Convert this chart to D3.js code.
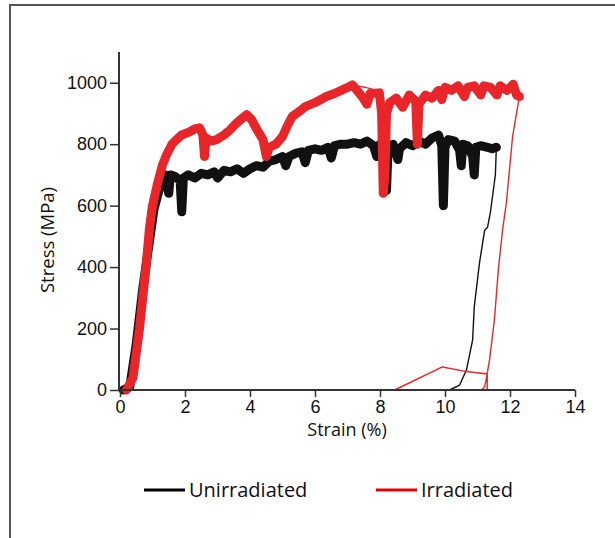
<!DOCTYPE html>
<html>
<head>
<meta charset="utf-8">
<script src="https://cdn.jsdelivr.net/npm/d3@7"></script>
<style>
  html, body { margin: 0; padding: 0; background: #fff; }
  svg { display: block; font-family: "Open Sans", "Noto Sans", sans-serif; }
</style>
</head>
<body>
<svg id="chart" width="615" height="538"></svg>
<script>
// Tensile curves: strain (%) vs stress (MPa)
const seriesNames = ["Unirradiated", "Irradiated"];
const seriesColors = ["#111111", "#e8262a"];
const legendColors = ["#000000", "#e00000"];

// Recorded (noisy) part of each test
const unirradiatedTest = [
  [0.1,0],[0.3,10],[0.5,150],[0.7,330],[0.9,480],[1.05,590],[1.2,650],[1.3,690],[1.4,700],[1.5,640],
  [1.55,700],[1.7,695],[1.85,680],[1.9,580],[1.95,690],[2.1,700],[2.3,690],[2.5,705],[2.7,700],[2.9,710],
  [3.0,690],[3.2,715],[3.4,710],[3.6,720],[3.8,705],[4.0,720],[4.2,730],[4.4,725],[4.6,745],[4.8,750],
  [5.0,760],[5.1,730],[5.2,760],[5.4,770],[5.6,775],[5.7,740],[5.8,780],[6.0,785],[6.2,780],[6.4,790],
  [6.5,755],[6.6,795],[6.8,800],[7.0,800],[7.2,805],[7.4,800],[7.6,810],[7.8,795],[7.9,760],[8.0,800],
  [8.15,780],[8.2,650],[8.25,790],[8.4,800],[8.55,750],[8.6,785],[8.8,805],[9.0,795],[9.2,810],[9.4,800],
  [9.6,820],[9.8,830],[9.9,795],[9.95,600],[10.0,790],[10.1,815],[10.3,810],[10.45,780],[10.5,730],[10.55,800],
  [10.7,795],[10.85,760],[10.9,700],[10.95,790],[11.1,795],[11.3,790],[11.45,785],[11.58,790]
];
const irradiatedTest = [
  [0.2,0],[0.4,40],[0.6,200],[0.8,400],[0.91,530],[1.0,600],[1.15,670],[1.3,730],[1.43,765],[1.6,800],
  [1.74,815],[1.9,830],[2.14,840],[2.3,850],[2.45,853],[2.55,830],[2.6,760],[2.65,820],[2.8,810],[2.97,815],
  [3.2,830],[3.37,845],[3.6,870],[3.77,885],[3.9,896],[4.05,880],[4.2,850],[4.4,815],[4.5,760],[4.6,790],
  [4.8,800],[5.0,825],[5.15,860],[5.3,890],[5.5,905],[5.7,922],[6.0,935],[6.35,955],[6.6,965],[6.97,983],
  [7.15,993],[7.28,977],[7.45,955],[7.6,930],[7.7,965],[7.98,967],[8.05,900],[8.1,640],[8.15,700],[8.2,900],
  [8.3,935],[8.5,950],[8.7,920],[8.9,960],[9.1,940],[9.15,800],[9.2,930],[9.4,960],[9.6,950],[9.8,975],
  [9.9,945],[10.0,985],[10.2,975],[10.4,990],[10.6,955],[10.7,985],[10.9,990],[11.1,960],[11.2,990],[11.4,985],
  [11.6,960],[11.7,990],[11.9,975],[12.1,995],[12.2,960],[12.29,955]
];

// Unloading traces after fracture
const unirradiatedUnload = [
  [11.58,790],[11.55,700],[11.4,580],[11.31,530],[11.22,520],[11.06,413],[10.9,270],[10.85,163],
  [10.66,65],[10.45,16],[10.14,0],[9.8,0]
];
const irradiatedUnload = [
  [12.29,955],[12.2,900],[12.08,825],[11.89,610],[11.77,520],[11.64,390],[11.52,228],[11.37,98],
  [11.28,42],[11.22,10],[11.12,0],[11.3,0],[11.3,52],[10.66,60],[9.92,75],[8.45,0]
];
// thin connector over the load drop near 8 %
const irradiatedBridge = [[7.2,990],[7.6,985],[7.9,975],[8.1,955]];

const xTicks = [0, 2, 4, 6, 8, 10, 12, 14];
const yTicks = [0, 200, 400, 600, 800, 1000];
const xMinorTicks = d3.range(0, 15, 1);
const yMinorTicks = d3.range(0, 1101, 100);

const svg = d3.select("#chart");

// outer frame (top and left edges)
svg.append("path")
  .attr("d", "M10,538 L10,5 L615,5")
  .attr("fill", "none").attr("stroke", "#555").attr("stroke-width", 2);

const x = d3.scaleLinear().domain([0, 14]).range([120, 575]);
const y = d3.scaleLinear().domain([0, 1100]).range([390, 52]);

const line = d3.line().x(d => x(d[0])).y(d => y(d[1]));

const tests = [unirradiatedTest, irradiatedTest];
const unloads = [unirradiatedUnload, irradiatedUnload];

tests.forEach((data, i) => {
  svg.append("path")
    .datum(data)
    .attr("d", line)
    .attr("fill", "none")
    .attr("stroke", seriesColors[i])
    .attr("stroke-width", 9)
    .attr("stroke-linejoin", "round")
    .attr("stroke-linecap", "round");
});

unloads.forEach((data, i) => {
  svg.append("path")
    .datum(data)
    .attr("d", line)
    .attr("fill", "none")
    .attr("stroke", seriesColors[i])
    .attr("stroke-width", 1.4)
    .attr("stroke-linejoin", "round");
});

svg.append("path")
  .datum(irradiatedBridge)
  .attr("d", line.curve(d3.curveBasis))
  .attr("fill", "none")
  .attr("stroke", seriesColors[1])
  .attr("stroke-width", 1.4);

// axes
const axisColor = "#333";
const xAxisG = svg.append("g").attr("transform", "translate(0,390)");
xAxisG.call(d3.axisBottom(x).tickValues(xMinorTicks).tickSize(5).tickFormat(""));
xAxisG.call(d3.axisBottom(x).tickValues(xTicks).tickSize(7).tickPadding(3).tickFormat(d3.format("d")));
xAxisG.selectAll(".domain").attr("stroke", axisColor).attr("stroke-width", 2).attr("d", `M${x(0)},0H${x(14)}`);
xAxisG.selectAll(".tick line").attr("stroke", axisColor).attr("stroke-width", 1.5);
xAxisG.selectAll("text").attr("font-size", 18).attr("fill", "#111");

const yAxisG = svg.append("g").attr("transform", "translate(119,0)");
yAxisG.call(d3.axisLeft(y).tickValues(yMinorTicks).tickSize(6).tickFormat(""));
yAxisG.call(d3.axisLeft(y).tickValues(yTicks).tickSize(9).tickPadding(3).tickFormat(d3.format("d")));
yAxisG.selectAll(".domain").attr("stroke", axisColor).attr("stroke-width", 2).attr("d", `M0,${y(1100)}V${y(0)}`);
yAxisG.selectAll(".tick line").attr("stroke", axisColor).attr("stroke-width", 1.5);
yAxisG.selectAll("text").attr("font-size", 18).attr("fill", "#111");

// axis titles
svg.append("text")
  .attr("x", 347).attr("y", 436)
  .attr("text-anchor", "middle")
  .attr("font-size", 18).attr("fill", "#111")
  .text("Strain (%)");

svg.append("text")
  .attr("transform", "translate(54,240) rotate(-90)")
  .attr("text-anchor", "middle")
  .attr("font-size", 18.5).attr("fill", "#111")
  .text("Stress (MPa)");

// legend
const legendX = [144, 376];
seriesNames.forEach((name, i) => {
  const g = svg.append("g").attr("transform", `translate(${legendX[i]},490)`);
  g.append("line").attr("x1", 0).attr("x2", 41).attr("y1", 0).attr("y2", 0)
    .attr("stroke", legendColors[i]).attr("stroke-width", 3);
  g.append("text").attr("x", 45).attr("y", 7)
    .attr("font-size", 20).attr("fill", "#111")
    .text(name);
});
</script>
</body>
</html>
